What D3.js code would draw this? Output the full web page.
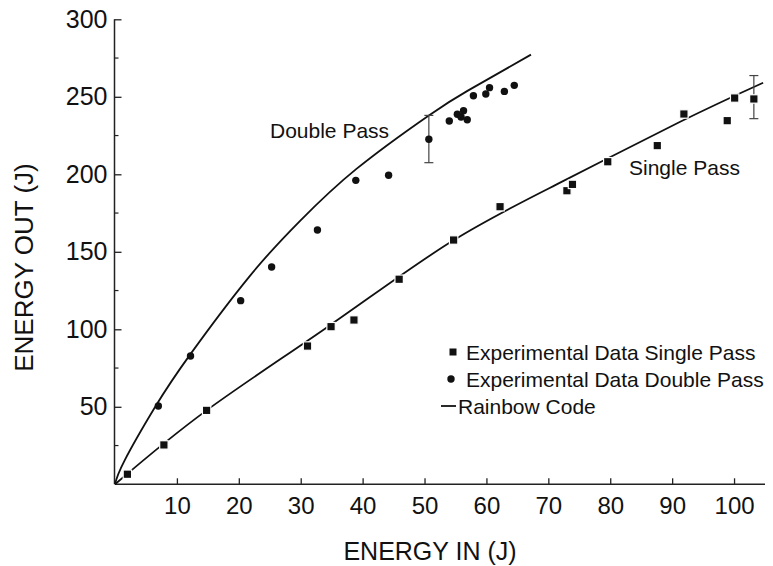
<!DOCTYPE html>
<html>
<head>
<meta charset="utf-8">
<script src="https://cdn.jsdelivr.net/npm/d3@7/dist/d3.min.js"></script>
<style>
  html, body { margin: 0; padding: 0; background: #fff; }
  svg { display: block; }
  text { font-family: "Liberation Sans", Arial, Helvetica, sans-serif; fill: #111; }
</style>
</head>
<body>
<script>
// ---- Data ----
const xTicks = [10, 20, 30, 40, 50, 60, 70, 80, 90, 100];
const yTicks = [50, 100, 150, 200, 250, 300];
const yMinorTicks = [25, 75, 125, 175, 225, 275];

// Experimental data, single pass (squares)
const singleIn  = [2.0, 7.9, 14.8, 31.1, 34.9, 38.6, 45.9, 54.7, 62.2, 73.0, 73.9, 79.6, 87.6, 91.9, 98.9, 100.1, 103.2];
const singleOut = [6.5, 25.4, 47.7, 89.2, 101.7, 106.0, 132.3, 157.6, 179.1, 189.4, 193.5, 208.1, 218.5, 238.9, 234.6, 249.2, 248.6];

// Experimental data, double pass (circles)
const doubleIn  = [7.0, 12.2, 20.3, 25.3, 32.7, 38.9, 44.2, 50.7, 54.0, 55.3, 55.9, 56.3, 56.9, 57.9, 59.9, 60.5, 62.9, 64.5];
const doubleOut = [50.5, 82.8, 118.5, 140.2, 164.1, 196.1, 199.4, 222.6, 234.4, 238.7, 237.0, 241.0, 235.2, 250.7, 251.8, 255.9, 253.5, 257.4];

// Rainbow code curves
const rainbowDoubleIn  = [0, 1.5, 6.5, 12.1, 21.8, 29.9, 39.0, 50.7, 57.0, 67.2];
const rainbowDoubleOut = [0, 15, 50, 83.5, 134.5, 170, 203.5, 238, 254, 277.2];
const rainbowSingleIn  = [0, 14.8, 34.8, 54.1, 71.9, 91.3, 104.7];
const rainbowSingleOut = [0, 47.7, 102.8, 156, 194.6, 233.9, 259.1];

// Error bars
const errIn   = [50.7, 103.2];
const errLow  = [207.5, 235.9];
const errHigh = [238.0, 263.7];

const legendLabels = ["Experimental Data Single Pass", "Experimental Data Double Pass", "Rainbow Code"];

// ---- Drawing ----
const W = 773, H = 566;
const svg = d3.select("body").append("svg").attr("width", W).attr("height", H);

const x = d3.scaleLinear().domain([0, 105]).range([115, 765]);
const y = d3.scaleLinear().domain([0, 300]).range([484.3, 19.3]);

const axisColor = "#222";

// Y axis
const yAxis = svg.append("g").attr("transform", "translate(114.5,0)")
  .call(d3.axisLeft(y).tickValues(yTicks).tickSizeInner(-7).tickSizeOuter(0).tickPadding(7));
yAxis.select(".domain").remove();
yAxis.selectAll(".tick line").attr("stroke", axisColor).attr("stroke-width", 1.3);
yAxis.selectAll(".tick text").attr("font-size", 25).attr("fill", "#111")
  .attr("font-family", "'Liberation Sans', Arial, Helvetica, sans-serif");
svg.append("line").attr("x1", 114.5).attr("x2", 114.5).attr("y1", y(0)).attr("y2", y(300))
  .attr("stroke", axisColor).attr("stroke-width", 1.5);
svg.append("g").selectAll("line").data(yMinorTicks).join("line")
  .attr("x1", 114.5).attr("x2", 118.5).attr("y1", d => y(d)).attr("y2", d => y(d))
  .attr("stroke", axisColor).attr("stroke-width", 1.2);

// X axis
const xAxis = svg.append("g").attr("transform", `translate(0,${y(0)})`)
  .call(d3.axisBottom(x).tickValues(xTicks).tickSizeInner(-6).tickSizeOuter(0).tickPadding(13));
xAxis.select(".domain").remove();
xAxis.selectAll(".tick line").attr("stroke", axisColor).attr("stroke-width", 1.3);
xAxis.selectAll(".tick text").attr("font-size", 24).attr("fill", "#111")
  .attr("font-family", "'Liberation Sans', Arial, Helvetica, sans-serif");
svg.append("line").attr("x1", x(0)).attr("x2", x(105)).attr("y1", y(0)).attr("y2", y(0))
  .attr("stroke", axisColor).attr("stroke-width", 1.5);

// Axis titles
svg.append("text").attr("x", 430).attr("y", 559.5).attr("text-anchor", "middle")
  .attr("font-size", 25).text("ENERGY IN (J)");
svg.append("text").attr("transform", "translate(33,267.5) rotate(-90)").attr("text-anchor", "middle")
  .attr("font-size", 26).text("ENERGY OUT (J)");

// Rainbow code curves
const line = d3.line().x(d => x(d[0])).y(d => y(d[1])).curve(d3.curveNatural);
svg.append("path").datum(d3.zip(rainbowDoubleIn, rainbowDoubleOut)).attr("d", line)
  .attr("fill", "none").attr("stroke", "#111").attr("stroke-width", 1.8);
svg.append("path").datum(d3.zip(rainbowSingleIn, rainbowSingleOut)).attr("d", line)
  .attr("fill", "none").attr("stroke", "#111").attr("stroke-width", 1.8);

// Error bars
const errs = d3.zip(errIn, errLow, errHigh);
const eg = svg.append("g").attr("stroke", "#444").attr("stroke-width", 1.2);
eg.selectAll(".ev").data(errs).join("line")
  .attr("x1", d => x(d[0])).attr("x2", d => x(d[0])).attr("y1", d => y(d[1])).attr("y2", d => y(d[2]));
eg.selectAll(".el").data(errs).join("line")
  .attr("x1", d => x(d[0]) - 4.5).attr("x2", d => x(d[0]) + 4.5).attr("y1", d => y(d[1])).attr("y2", d => y(d[1]));
eg.selectAll(".eh").data(errs).join("line")
  .attr("x1", d => x(d[0]) - 4.5).attr("x2", d => x(d[0]) + 4.5).attr("y1", d => y(d[2])).attr("y2", d => y(d[2]));

// Markers
const sq = 8.4;
svg.append("g").selectAll("rect").data(d3.zip(singleIn, singleOut)).join("rect")
  .attr("x", d => x(d[0]) - sq / 2).attr("y", d => y(d[1]) - sq / 2)
  .attr("width", sq).attr("height", sq).attr("fill", "#111")
  .attr("stroke", "#fff").attr("stroke-width", 1.2);
svg.append("g").selectAll("circle").data(d3.zip(doubleIn, doubleOut)).join("circle")
  .attr("cx", d => x(d[0])).attr("cy", d => y(d[1])).attr("r", 3.7).attr("fill", "#111");

// Curve labels
svg.append("text").attr("x", 270).attr("y", 137.5).attr("font-size", 21).text("Double Pass");
svg.append("text").attr("x", 629).attr("y", 175).attr("font-size", 21).text("Single Pass");

// Legend
const lg = svg.append("g");
const rowY = [352, 379, 406];
lg.append("rect").attr("x", 453 - 3.5).attr("y", rowY[0] - 3.5).attr("width", 7).attr("height", 7).attr("fill", "#111");
lg.append("circle").attr("cx", 451).attr("cy", rowY[1]).attr("r", 3.7).attr("fill", "#111");
lg.append("line").attr("x1", 441).attr("x2", 456).attr("y1", rowY[2]).attr("y2", rowY[2])
  .attr("stroke", "#111").attr("stroke-width", 1.8);
lg.selectAll("text").data(legendLabels).join("text")
  .attr("x", (d, i) => i === 2 ? 458 : 466).attr("y", (d, i) => rowY[i] + 7.5)
  .attr("font-size", 21).text(d => d);
</script>
</body>
</html>
